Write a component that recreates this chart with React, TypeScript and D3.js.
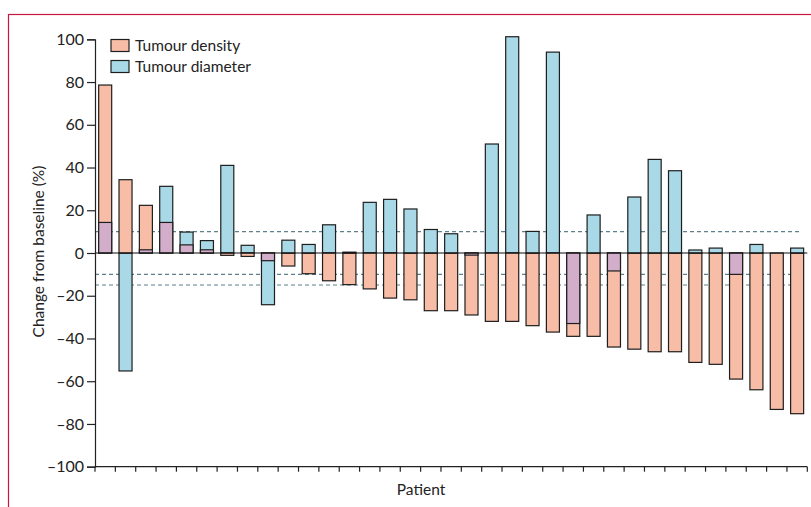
import { useEffect, useRef } from 'react'
import * as d3 from 'd3'

// change from baseline (%) per patient, sorted as in the figure
const density = [
  78.6, 34.3, 22.3, 14.3, 3.8, 1.5, -1.1, -1.6, -3.6, -6.1, -9.7, -13, -14.8, -16.8, -21.1, -21.9, -27, -27,
  -29, -32, -32, -34, -37, -39, -39, -44, -45, -46.2, -46.2, -51.2, -52.1, -59, -64, -73.2, -75.2,
]
const diameter = [
  14.3, -55.2, 1.5, 31.2, 9.8, 5.8, 41, 3.6, -24.2, 6, 4, 13.2, 0.4, 23.7, 25.1, 20.6, 11, 9, -1, 51, 101.2,
  10.1, 94, -33, 17.8, -8.4, 26.2, 43.8, 38.5, 1.4, 2.3, -10, 4, 0, 2.3,
]
const patients = density.map((_, i) => `P${i + 1}`)
const yTicks = [100, 80, 60, 40, 20, 0, -20, -40, -60, -80, -100]
const thresholds = [10, -10, -15]
const legendItems = ['Tumour density', 'Tumour diameter']

const ORANGE = '#f8bda6'
const BLUE = '#a9d8e7'
const PURPLE = '#d3aeca'
const FONT = 'Lato, sans-serif'

export default function App() {
  const ref = useRef<SVGSVGElement>(null)

  useEffect(() => {
    if (!ref.current) return
    const svg = d3.select(ref.current)
    svg.selectAll('*').remove()

    const x = d3.scaleBand().domain(patients).range([95, 807.3]).paddingInner(0.36).paddingOuter(0.18)
    const y = d3.scaleLinear().domain([-100, 100]).range([466.7, 39.3])

    // frame
    svg
      .append('rect')
      .attr('x', 8.5)
      .attr('y', 14.5)
      .attr('width', 900)
      .attr('height', 600)
      .attr('fill', 'none')
      .attr('stroke', '#c8173f')
      .attr('stroke-width', 1.2)

    // threshold lines
    svg
      .append('g')
      .selectAll('line')
      .data(thresholds)
      .join('line')
      .attr('x1', 95)
      .attr('x2', 801)
      .attr('y1', (d) => y(d))
      .attr('y2', (d) => y(d))
      .attr('stroke', '#5f7f8c')
      .attr('stroke-width', 1.1)
      .attr('stroke-dasharray', '4,3')

    const bars = svg.append('g')
    const rect = (g, p, v, fill) => {
      g.append('rect')
        .attr('x', x(p))
        .attr('width', x.bandwidth())
        .attr('y', Math.min(y(v), y(0)))
        .attr('height', Math.abs(y(v) - y(0)))
        .attr('fill', fill)
        .attr('stroke', '#1e1e1e')
        .attr('stroke-width', 1.2)
    }
    patients.forEach((p, i) => {
      const d = density[i]
      const m = diameter[i]
      const g = bars.append('g')
      // larger bar underneath, overlap drawn purple on top
      if (Math.abs(d) >= Math.abs(m)) {
        rect(g, p, d, ORANGE)
        if (m !== 0) rect(g, p, m, d * m > 0 ? PURPLE : BLUE)
      } else {
        rect(g, p, m, BLUE)
        if (d !== 0) rect(g, p, d, d * m > 0 ? PURPLE : ORANGE)
      }
    })

    // zero line
    svg
      .append('line')
      .attr('x1', 95)
      .attr('x2', 807.3)
      .attr('y1', y(0))
      .attr('y2', y(0))
      .attr('stroke', '#111')
      .attr('stroke-width', 1.2)

    // y axis
    const yAxis = svg
      .append('g')
      .attr('transform', 'translate(95,0)')
      .call(
        d3
          .axisLeft(y)
          .tickValues(yTicks)
          .tickSize(8)
          .tickPadding(3)
          .tickFormat((d) => (d < 0 ? `–${-d}` : `${d}`))
      )
    yAxis.select('.domain').attr('stroke', '#222').attr('stroke-width', 1.2)
    yAxis.selectAll('.tick line').attr('stroke', '#222').attr('stroke-width', 1.2)
    yAxis.selectAll('text').attr('font-family', FONT).attr('font-size', 16).attr('fill', '#222')

    // x axis with ticks between patients
    const xAxisG = svg.append('g').attr('transform', `translate(0,${y(-100)})`)
    xAxisG
      .append('line')
      .attr('x1', 95)
      .attr('x2', 807.3)
      .attr('stroke', '#222')
      .attr('stroke-width', 1.2)
    const step = x.step()
    xAxisG
      .selectAll('line.tick')
      .data(d3.range(patients.length + 1))
      .join('line')
      .attr('class', 'tick')
      .attr('x1', (k) => 95 + k * step)
      .attr('x2', (k) => 95 + k * step)
      .attr('y1', 0)
      .attr('y2', 5)
      .attr('stroke', '#222')
      .attr('stroke-width', 1.2)

    // axis titles
    svg
      .append('text')
      .attr('transform', 'translate(44,251.5) rotate(-90)')
      .attr('text-anchor', 'middle')
      .attr('font-family', FONT)
      .attr('font-size', 15.5)
      .attr('fill', '#222')
      .text('Change from baseline (%)')
    svg
      .append('text')
      .attr('x', 421)
      .attr('y', 495)
      .attr('text-anchor', 'middle')
      .attr('font-family', FONT)
      .attr('font-size', 15.5)
      .attr('fill', '#222')
      .text('Patient')

    // legend
    const legend = svg
      .append('g')
      .selectAll('g')
      .data(legendItems)
      .join('g')
      .attr('transform', (_, i) => `translate(111,${39.5 + i * 21})`)
    legend
      .append('rect')
      .attr('width', 18)
      .attr('height', 12)
      .attr('fill', (_, i) => (i === 0 ? ORANGE : BLUE))
      .attr('stroke', '#1e1e1e')
      .attr('stroke-width', 1.2)
    legend
      .append('text')
      .attr('x', 24)
      .attr('y', 11.5)
      .attr('font-family', FONT)
      .attr('font-size', 15.5)
      .attr('fill', '#222')
      .text((d) => d)
  }, [])

  return (
    <svg
      ref={ref}
      width={811}
      height={507}
      style={{ position: 'absolute', left: 0, top: 0, background: '#fff' }}
    />
  )
}
